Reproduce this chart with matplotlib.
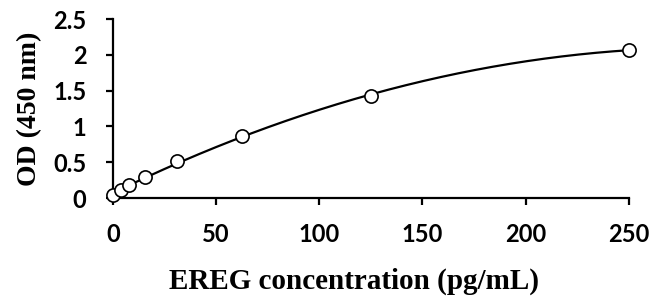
import numpy as np
import matplotlib
matplotlib.use("Agg")
import matplotlib.pyplot as plt

conc = [0, 3.9, 7.8, 15.6, 31.25, 62.5, 125, 250]
od = [0.05, 0.11, 0.18, 0.29, 0.52, 0.87, 1.42, 2.07]
x_ticks = [0, 50, 100, 150, 200, 250]
y_ticks = [0, 0.5, 1, 1.5, 2, 2.5]
y_ticklabels = ["0", "0.5", "1", "1.5", "2", "2.5"]

fig = plt.figure(figsize=(6.53, 2.97), dpi=100)
ax = fig.add_axes([0.173, 0.333, 0.790, 0.603])

coef = np.polyfit(conc, od, 2)
xs = np.linspace(min(conc), max(conc), 300)
ax.plot(xs, np.polyval(coef, xs), color="black", lw=1.6, zorder=2)
ax.plot(conc, od, "o", ms=9.5, mfc="white", mec="black", mew=1.2, clip_on=False, zorder=3)

ax.set_xlim(0, 250)
ax.set_ylim(0, 2.5)
ax.set_xticks(x_ticks)
ax.set_yticks(y_ticks)
ax.set_yticklabels(y_ticklabels)
for s in ["top", "right"]:
    ax.spines[s].set_visible(False)
for s in ["left", "bottom"]:
    ax.spines[s].set_linewidth(1.6)
ax.tick_params(direction="out", length=5, width=1.6, labelsize=17)
ax.tick_params(axis="x", pad=13)
ax.tick_params(axis="y", pad=14)
for lab in ax.get_xticklabels() + ax.get_yticklabels():
    lab.set_fontfamily("Lato")
    lab.set_fontweight("bold")

ax.set_xlabel("EREG concentration (pg/mL)", fontsize=21, fontweight="bold",
              fontfamily="Liberation Serif")
ax.xaxis.set_label_coords(0.467, -0.39, transform=ax.transAxes)
ax.set_ylabel("OD (450 nm)", fontsize=20, fontweight="bold",
              fontfamily="Liberation Serif", labelpad=8)

fig.savefig("out.png", dpi=100)
